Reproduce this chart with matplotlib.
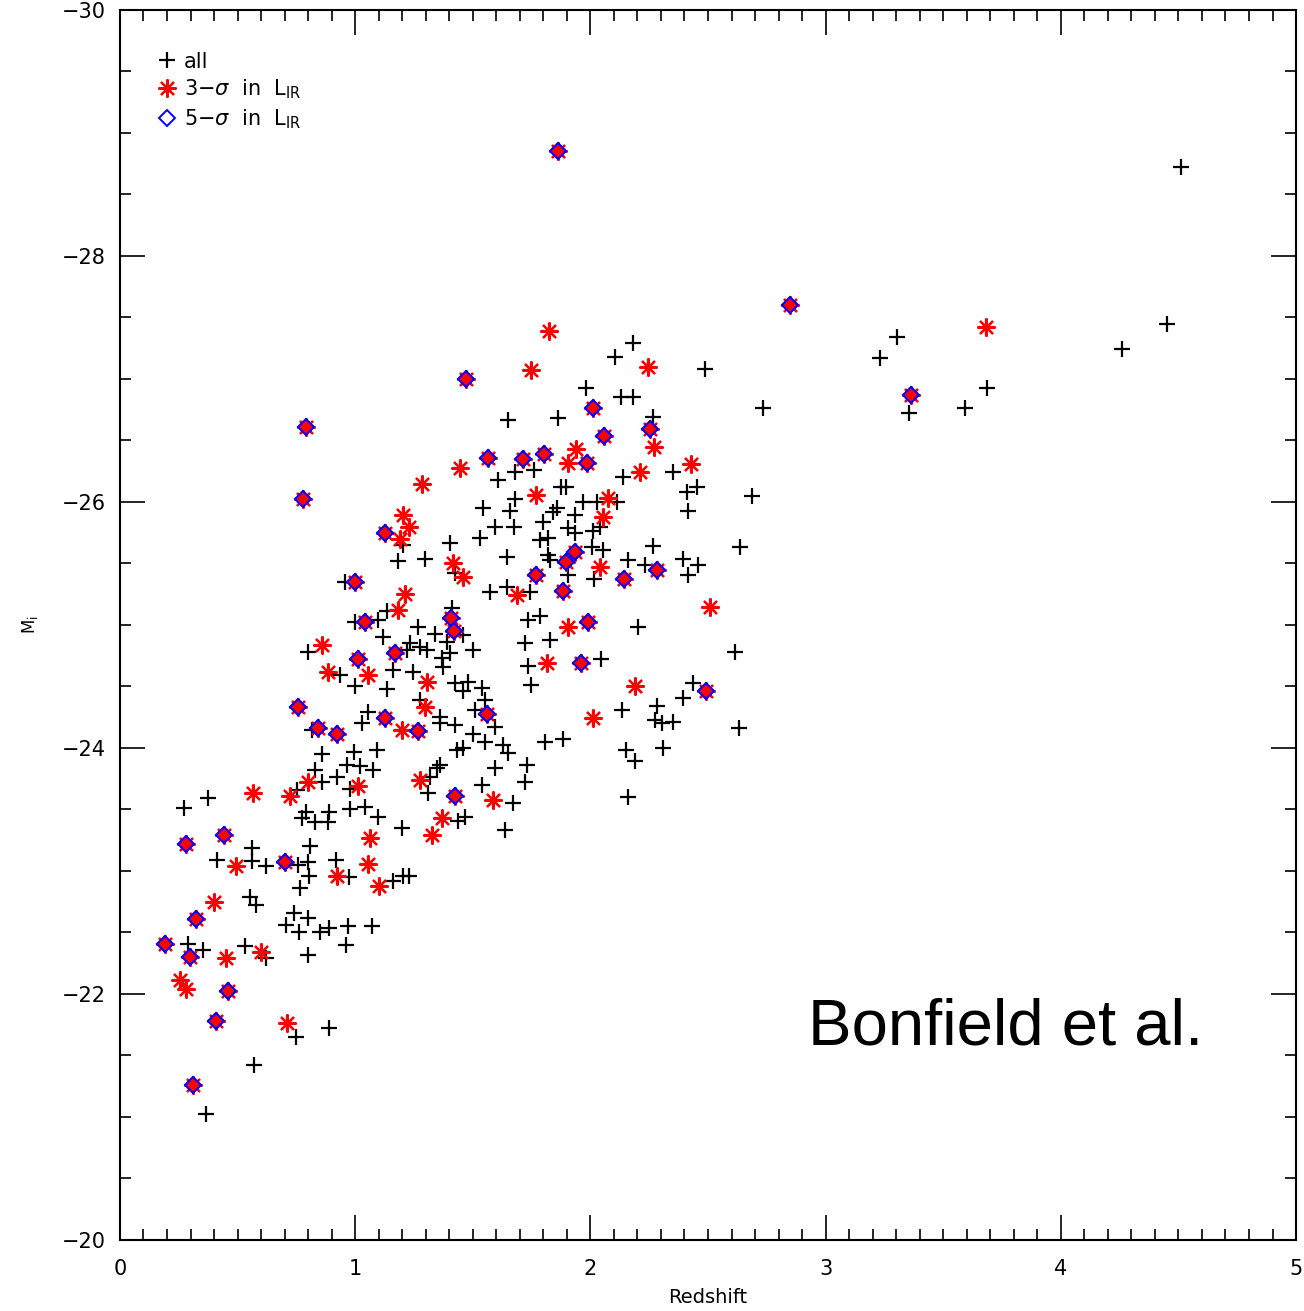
import matplotlib.pyplot as plt
from matplotlib.lines import Line2D
from matplotlib.ticker import MultipleLocator
import numpy as np

# sources detected only in the "all" sample (black plus signs)
z_all = [0.859, 0.995, 1.093, 0.829, 0.965, 1.020, 1.076, 0.923, 0.859, 0.978,
         0.374, 0.272, 0.753, 0.791, 0.889, 0.774, 0.829, 0.884, 0.978, 1.042,
         1.097, 1.199, 0.561, 0.808, 0.412, 0.561, 0.621, 0.757, 0.799, 0.804,
         0.918, 0.974, 1.161, 1.203, 1.229, 0.765, 0.553, 0.578, 0.740, 0.799,
         0.706, 0.761, 0.850, 0.889, 0.969, 1.071, 0.961, 0.799, 0.289, 0.353,
         0.531, 0.621, 0.748, 0.889, 0.570, 0.366,
         0.999, 1.097, 1.135, 1.412, 1.267, 1.339, 1.390, 0.799, 1.118, 1.233,
         1.276, 1.305, 1.220, 1.369, 1.373, 1.403, 0.935, 1.161, 1.246, 1.424,
         0.999, 1.135, 1.276, 1.054, 1.029, 1.361, 1.361, 1.424, 0.816, 1.433,
         1.361, 1.318, 1.348, 1.310, 1.437,
         1.735, 1.786, 2.202, 1.722, 1.828, 1.501, 1.458, 1.735, 2.045, 2.615,
         1.747, 2.436, 2.394, 1.480, 1.539, 1.458, 1.552, 1.509, 1.594, 2.134,
         2.283, 2.275, 2.304, 2.351, 2.632, 1.501, 1.552, 1.458, 1.628, 1.650,
         1.807, 1.883, 2.151, 2.190, 2.309, 1.594, 1.730, 1.722, 1.539, 1.671,
         2.160, 1.467, 1.637,
         2.181, 2.105, 2.487, 1.981, 2.130, 2.181, 2.734, 1.650, 1.862, 2.266,
         2.351, 1.607, 1.679, 1.760, 2.139, 1.875, 1.896, 2.453, 2.411, 2.687,
         2.415, 1.543, 1.679, 1.658, 1.858, 1.841, 1.935, 1.969, 2.028, 2.113,
         1.798, 1.594, 1.675, 1.531, 1.905, 1.935, 2.011, 2.041, 1.786, 1.820,
         2.266, 2.054, 2.007, 2.636, 1.645, 1.820, 1.828, 2.160, 2.232, 2.394,
         2.457, 2.415, 1.905, 2.015, 1.573, 1.645, 1.743,
         1.203, 1.403, 1.182, 1.297, 1.424, 0.957,
         4.511, 3.304, 3.231, 3.355, 3.593, 3.686, 4.260, 4.452]
mi_all = [-23.95, -23.97, -23.98, -23.82, -23.86, -23.85, -23.82, -23.76, -23.72, -23.67,
          -23.59, -23.51, -23.66, -23.48, -23.48, -23.43, -23.40, -23.40, -23.50, -23.52,
          -23.44, -23.35, -23.19, -23.20, -23.09, -23.08, -23.04, -23.05, -23.07, -22.96,
          -23.09, -22.95, -22.92, -22.96, -22.96, -22.86, -22.79, -22.72, -22.66, -22.62,
          -22.56, -22.50, -22.50, -22.54, -22.55, -22.55, -22.40, -22.32, -22.41, -22.36,
          -22.39, -22.29, -21.65, -21.72, -21.42, -21.02,
          -25.02, -25.04, -25.11, -25.14, -24.98, -24.93, -24.86, -24.78, -24.90, -24.85,
          -24.82, -24.80, -24.80, -24.73, -24.66, -24.77, -24.59, -24.63, -24.62, -24.53,
          -24.50, -24.48, -24.39, -24.29, -24.20, -24.25, -24.20, -24.19, -24.15, -23.98,
          -23.86, -23.76, -23.84, -23.63, -23.41,
          -25.04, -25.07, -24.98, -24.85, -24.88, -24.80, -24.92, -24.67, -24.72, -24.78,
          -24.51, -24.53, -24.41, -24.54, -24.49, -24.46, -24.39, -24.31, -24.17, -24.31,
          -24.34, -24.23, -24.20, -24.21, -24.16, -24.11, -24.05, -24.00, -24.02, -23.96,
          -24.05, -24.07, -23.98, -23.89, -24.00, -23.84, -23.86, -23.72, -23.70, -23.55,
          -23.60, -23.44, -23.33,
          -27.29, -27.18, -27.08, -26.93, -26.85, -26.85, -26.76, -26.67, -26.68, -26.69,
          -26.24, -26.18, -26.24, -26.26, -26.20, -26.12, -26.12, -26.12, -26.08, -26.05,
          -25.93, -25.95, -26.02, -25.93, -25.95, -25.92, -25.89, -26.00, -26.00, -26.00,
          -25.84, -25.80, -25.80, -25.71, -25.79, -25.75, -25.76, -25.80, -25.69, -25.71,
          -25.64, -25.61, -25.63, -25.63, -25.55, -25.57, -25.53, -25.53, -25.49, -25.54,
          -25.49, -25.41, -25.41, -25.37, -25.27, -25.31, -25.27,
          -25.65, -25.67, -25.52, -25.54, -25.42, -25.35,
          -28.72, -27.34, -27.17, -26.72, -26.76, -26.93, -27.24, -27.45]

# 3-sigma detections in L_IR (red asterisks, not 5-sigma)
z_3sig = [0.565, 0.723, 0.799, 1.012, 1.276, 1.063, 0.493, 1.054, 0.923, 1.101,
          0.400, 0.451, 0.599, 0.255, 0.281, 0.710, 1.182, 0.859, 0.884, 1.054,
          1.305, 1.297, 1.199, 1.369, 1.327, 1.905, 2.508, 1.815, 2.190, 2.011,
          1.586, 1.824, 1.747, 2.245, 2.270, 1.939, 1.905, 1.446, 2.211, 2.428,
          1.769, 2.075, 2.054, 2.041, 1.688, 1.458, 1.284, 1.203, 1.229, 1.190,
          1.416, 1.212, 3.682]
mi_3sig = [-23.63, -23.61, -23.72, -23.69, -23.74, -23.27, -23.04, -23.06, -22.96, -22.88,
           -22.75, -22.29, -22.34, -22.11, -22.04, -21.76, -25.12, -24.84, -24.62, -24.59,
           -24.54, -24.33, -24.15, -23.43, -23.29, -24.98, -25.15, -24.69, -24.50, -24.24,
           -23.58, -27.39, -27.07, -27.10, -26.45, -26.43, -26.32, -26.28, -26.24, -26.31,
           -26.06, -26.03, -25.88, -25.47, -25.24, -25.39, -26.15, -25.89, -25.80, -25.70,
           -25.50, -25.25, -27.42]

# 5-sigma detections in L_IR (blue diamonds)
z_5sig = [1.862, 2.849, 3.363, 0.791, 0.778, 1.471, 1.565, 1.713, 1.803, 2.011,
          2.058, 1.986, 2.253, 1.127, 0.999, 1.042, 1.012, 1.169, 1.407, 1.420,
          1.769, 1.896, 1.935, 1.883, 2.143, 2.283, 1.990, 1.960, 0.757, 0.842,
          0.923, 1.127, 1.267, 1.560, 1.424, 2.491, 0.281, 0.442, 0.323, 0.191,
          0.298, 0.702, 0.459, 0.408, 0.310]
mi_5sig = [-28.85, -27.60, -26.87, -26.61, -26.02, -27.00, -26.36, -26.35, -26.39, -26.76,
           -26.54, -26.32, -26.59, -25.75, -25.35, -25.02, -24.72, -24.77, -25.06, -24.95,
           -25.41, -25.51, -25.59, -25.28, -25.37, -25.45, -25.02, -24.69, -24.33, -24.16,
           -24.11, -24.24, -24.14, -24.28, -23.61, -24.46, -23.22, -23.29, -22.61, -22.41,
           -22.30, -23.07, -22.02, -21.78, -21.26]

z_every = z_all + z_3sig + z_5sig
mi_every = mi_all + mi_3sig + mi_5sig
z_ir = z_3sig + z_5sig
mi_ir = mi_3sig + mi_5sig

plt.rcParams['font.family'] = ['DejaVu Sans']
fig = plt.figure(figsize=(13.04, 13.11), dpi=100)
ax = fig.add_axes([0.092, 0.0542, 0.9019, 0.9382])

asterisk = (8, 2, 0)
ax.plot(z_every, mi_every, ls='none', marker='+', color='black', ms=12, mew=1.6)
ax.plot(z_ir, mi_ir, ls='none', marker=asterisk, color='red', ms=13, mew=1.6)
ax.plot(z_5sig, mi_5sig, ls='none', marker='D', mfc='red', mec='blue', ms=8.5, mew=1.5)

ax.set_xlim(0, 5)
ax.set_ylim(-20, -30)
ax.set_yticks([-30, -28, -26, -24, -22, -20])
ax.xaxis.set_major_locator(MultipleLocator(1))
ax.xaxis.set_minor_locator(MultipleLocator(0.1))
ax.yaxis.set_minor_locator(MultipleLocator(0.5))
ax.tick_params(which='both', direction='in', top=True, right=True, width=1.2, labelsize=15)
ax.tick_params(which='major', length=18, pad=10)
ax.tick_params(axis='x', which='major', pad=14)
ax.tick_params(which='minor', length=8)
for s in ax.spines.values():
    s.set_linewidth(1.5)

ax.set_xlabel('Redshift', fontsize=14, labelpad=6)
ax.set_ylabel('M$_{\\rm i}$', fontsize=12, labelpad=16)

handles = [
    Line2D([], [], ls='none', marker='+', color='black', ms=12, mew=1.6),
    Line2D([], [], ls='none', marker=asterisk, color='red', ms=13, mew=1.6),
    Line2D([], [], ls='none', marker='D', mfc='none', mec='blue', ms=8, mew=1.4),
]
labels = ['all', '3$-\\sigma$  in  L$_{\\rm IR}$', '5$-\\sigma$  in  L$_{\\rm IR}$']
ax.legend(handles, labels, loc='upper left', bbox_to_anchor=(0.026, 0.973),
          frameon=False, fontsize=15, handlelength=0.8, handletextpad=0.4,
          labelspacing=0.3, borderaxespad=0)

fig.text(0.62, 0.203, 'Bonfield et al.', fontsize=47, family='Liberation Sans',
         ha='left', va='baseline')

fig.savefig('out.png', dpi=100)
